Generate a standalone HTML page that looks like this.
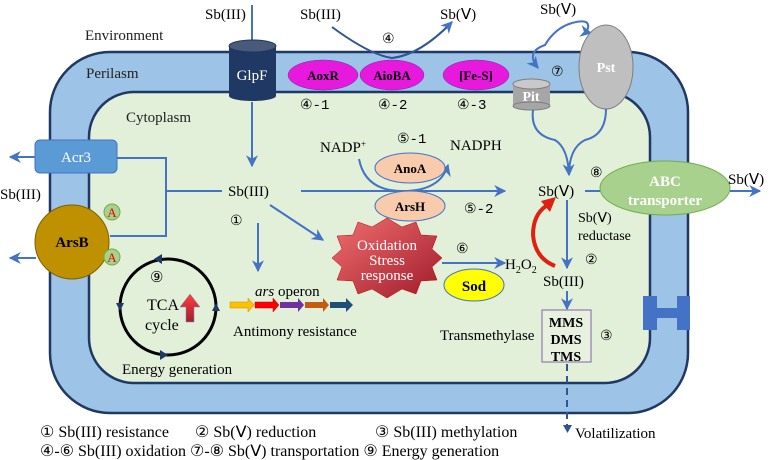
<!DOCTYPE html>
<html><head><meta charset="utf-8"><style>
body{margin:0;background:#fff}
svg{display:block;font-family:"Liberation Serif",serif}
</style></head><body>
<svg width="772" height="460" viewBox="0 0 772 460" xmlns="http://www.w3.org/2000/svg">
<defs>
<marker id="a" viewBox="0 0 10 10" refX="9" refY="5" markerWidth="6" markerHeight="6" orient="auto"><path d="M0,0L10,5L0,10L3,5z" fill="#4472c4"/></marker>
<linearGradient id="rg" x1="0" y1="0" x2="1" y2="1"><stop offset="0" stop-color="#f07070"/><stop offset="1" stop-color="#a01a2a"/></linearGradient>
<linearGradient id="ug" x1="0" y1="0" x2="0" y2="1"><stop offset="0" stop-color="#ff4040"/><stop offset="1" stop-color="#a0202a"/></linearGradient>
</defs>
<rect x="50" y="52" width="638" height="361" rx="60" fill="#9dc3e6" stroke="#1f3864" stroke-width="2.5"/>
<rect x="89" y="92" width="561" height="291" rx="45" fill="#e2efd9" stroke="#1f3864" stroke-width="2.5"/>
<g font-size="15" fill="#222">
<text x="85" y="40">Environment</text>
<text x="86" y="78">Perilasm</text>
<text x="126" y="122">Cytoplasm</text>
</g>
<text x="205" y="19" font-size="15">Sb(III)</text>
<line x1="252" y1="5" x2="252" y2="42" stroke="#4472c4" stroke-width="2"/>
<line x1="252" y1="102" x2="252" y2="166" stroke="#4472c4" stroke-width="2" marker-end="url(#a)"/>
<rect x="229" y="46" width="47" height="50" fill="#1f3864"/>
<ellipse cx="252.5" cy="96" rx="23.5" ry="5" fill="#1f3864"/>
<ellipse cx="252.5" cy="46" rx="23.5" ry="6" fill="#4a5a7a" stroke="#1f3864"/>
<text x="252" y="80" font-size="15" fill="#fff" text-anchor="middle">GlpF</text>
<text x="300" y="19" font-size="15">Sb(III)</text>
<path d="M332,27 Q370,55 392,58 Q420,55 452,22" fill="none" stroke="#2f5597" stroke-width="2" marker-end="url(#a)"/>
<text x="440" y="19" font-size="15">Sb(Ⅴ)</text>
<text x="382" y="43" font-size="14">④</text>
<g font-weight="bold" font-size="13" text-anchor="middle">
<ellipse cx="323" cy="75" rx="35" ry="15" fill="#e619dc" stroke="#7030a0" stroke-width="0.5"/><text x="323" y="80">AoxR</text>
<ellipse cx="392" cy="75" rx="32" ry="15" fill="#e619dc" stroke="#7030a0" stroke-width="0.5"/><text x="392" y="80">AioBA</text>
<ellipse cx="476" cy="75" rx="33" ry="15" fill="#e619dc" stroke="#7030a0" stroke-width="0.5"/><text x="476" y="80">[Fe-S]</text>
</g>
<g font-size="14" font-family="Liberation Mono,monospace">
<text x="300" y="109">④-1</text><text x="378" y="109">④-2</text><text x="457" y="109">④-3</text>
</g>
<text x="540" y="14" font-size="15">Sb(Ⅴ)</text>
<path d="M572,23 Q590,18 588,28 Q586,32 591,33" fill="none" stroke="#4472c4" stroke-width="2" marker-end="url(#a)"/>
<path d="M572,23 Q555,28 545,45 Q525,52 538,68" fill="none" stroke="#4472c4" stroke-width="2" marker-end="url(#a)"/>
<rect x="513" y="84" width="37" height="22" fill="#a6a6a6"/>
<ellipse cx="531.5" cy="106" rx="18.5" ry="4" fill="#a6a6a6" stroke="#7f7f7f"/>
<ellipse cx="531.5" cy="84" rx="18.5" ry="5" fill="#c9c9c9" stroke="#7f7f7f"/>
<text x="531" y="101" font-size="14" font-weight="bold" fill="#fff" text-anchor="middle">Pit</text>
<ellipse cx="606" cy="67" rx="27" ry="42" fill="#bfbfbf" stroke="#7f7f7f"/>
<text x="606" y="72" font-size="14" font-weight="bold" fill="#fff" text-anchor="middle">Pst</text>
<text x="551" y="76" font-size="14">⑦</text>
<path d="M533,110 Q530,135 555,140 Q568,148 569,175" fill="none" stroke="#4472c4" stroke-width="2" marker-end="url(#a)"/>
<path d="M606,109 Q606,135 585,140 Q569,148 569,175" fill="none" stroke="#4472c4" stroke-width="2"/>
<text x="538" y="196" font-size="15">Sb(Ⅴ)</text>
<line x1="585" y1="191" x2="600" y2="191" stroke="#4472c4" stroke-width="2"/>
<text x="590" y="177" font-size="14">⑧</text>
<ellipse cx="665" cy="188" rx="65" ry="27" fill="#a9d18e" stroke="#70ad47"/>
<text x="665" y="186" font-size="15" font-weight="bold" fill="#fff" text-anchor="middle">ABC</text>
<text x="665" y="205" font-size="15" font-weight="bold" fill="#fff" text-anchor="middle">transporter</text>
<line x1="730" y1="191" x2="760" y2="191" stroke="#4472c4" stroke-width="2" marker-end="url(#a)"/>
<text x="728" y="184" font-size="15">Sb(Ⅴ)</text>
<line x1="567" y1="200" x2="567" y2="268" stroke="#4472c4" stroke-width="2" marker-end="url(#a)"/>
<text x="578" y="222" font-size="14">Sb(Ⅴ)</text>
<text x="578" y="240" font-size="14">reductase</text>
<text x="585" y="264" font-size="14">②</text>
<text x="543" y="286" font-size="15">Sb(III)</text>
<path d="M555,266 Q535,258 533,235 Q533,215 546,206" fill="none" stroke="#e02010" stroke-width="4"/>
<path d="M541,201 L556,197 L550,212 z" fill="#e02010"/>
<line x1="567" y1="291" x2="567" y2="309" stroke="#4472c4" stroke-width="2" marker-end="url(#a)"/>
<rect x="542" y="310" width="49" height="52" fill="#e8f1e0" stroke="#8064a2"/>
<g font-size="14" font-weight="bold" text-anchor="middle"><text x="566" y="327">MMS</text><text x="566" y="344">DMS</text><text x="566" y="361">TMS</text></g>
<text x="440" y="340" font-size="15">Transmethylase</text>
<text x="600" y="340" font-size="14">③</text>
<line x1="567" y1="364" x2="567" y2="426" stroke="#2f5597" stroke-width="2" stroke-dasharray="7,5"/>
<path d="M563,425L572,425L567.5,433z" fill="#2f5597"/>
<text x="575" y="438" font-size="15">Volatilization</text>
<rect x="643" y="296" width="14" height="34" fill="#4472c4"/><rect x="677" y="296" width="13" height="34" fill="#4472c4"/><rect x="657" y="308" width="20" height="10" fill="#4472c4"/>
<rect x="35" y="140" width="82" height="33" rx="5" fill="#5b9bd5" stroke="#4472c4"/>
<text x="76" y="162" font-size="15" fill="#fff" text-anchor="middle">Acr3</text>
<line x1="35" y1="157" x2="10" y2="157" stroke="#4472c4" stroke-width="2" marker-end="url(#a)"/>
<polyline points="117,158 166,158 166,236 110,236" fill="none" stroke="#4472c4" stroke-width="2"/>
<line x1="166" y1="191" x2="222" y2="191" stroke="#4472c4" stroke-width="2"/>
<text x="0" y="199" font-size="15">Sb(III)</text>
<circle cx="72" cy="242" r="37" fill="#bf9000" stroke="#7f6000"/>
<text x="72" y="247" font-size="15" font-weight="bold" text-anchor="middle">ArsB</text>
<line x1="36" y1="258" x2="10" y2="258" stroke="#4472c4" stroke-width="2" marker-end="url(#a)"/>
<circle cx="112" cy="212" r="8" fill="#a9d18e" stroke="#70ad47"/><text x="112" y="217" font-size="13" fill="#e00" text-anchor="middle">A</text>
<circle cx="112" cy="257" r="8" fill="#a9d18e" stroke="#70ad47"/><text x="112" y="262" font-size="13" fill="#e00" text-anchor="middle">A</text>
<text x="228" y="196" font-size="15">Sb(III)</text>
<line x1="301" y1="191" x2="505" y2="191" stroke="#4472c4" stroke-width="2" marker-end="url(#a)"/>
<text x="230" y="225" font-size="14">①</text>
<line x1="258" y1="223" x2="258" y2="271" stroke="#4472c4" stroke-width="2" marker-end="url(#a)"/>
<line x1="270" y1="205" x2="323" y2="240" stroke="#4472c4" stroke-width="2" marker-end="url(#a)"/>
<text x="320" y="152" font-size="15">NADP<tspan font-size="9" dy="-5">+</tspan></text>
<text x="450" y="150" font-size="15">NADPH</text>
<text x="397" y="143" font-size="14" font-family="Liberation Mono,monospace">⑤-1</text>
<path d="M359,159 Q365,190 400,191 Q440,192 448,165" fill="none" stroke="#4472c4" stroke-width="2" marker-end="url(#a)"/>
<ellipse cx="410" cy="168" rx="35" ry="15" fill="#f8cbad" stroke="#4472c4"/>
<text x="410" y="173" font-size="13" font-weight="bold" text-anchor="middle">AnoA</text>
<ellipse cx="410" cy="206" rx="35" ry="15" fill="#f8cbad" stroke="#4472c4"/>
<text x="410" y="211" font-size="13" font-weight="bold" text-anchor="middle">ArsH</text>
<text x="464" y="213" font-size="14" font-family="Liberation Mono,monospace">⑤-2</text>
<polygon points="442,258 432,267 437,280 421,281 416,294 402,289 387,298 372,289 358,294 353,281 337,280 342,267 332,258 342,249 337,236 353,235 358,222 372,227 387,218 402,227 416,222 421,235 437,236 432,249" fill="url(#rg)" stroke="#c00000" stroke-width="0.5"/>
<g font-size="15" fill="#fff" text-anchor="middle"><text x="387" y="250">Oxidation</text><text x="387" y="265">Stress</text><text x="387" y="280">response</text></g>
<text x="456" y="253" font-size="14">⑥</text>
<line x1="442" y1="263" x2="505" y2="263" stroke="#4472c4" stroke-width="2" marker-end="url(#a)"/>
<text x="505" y="269" font-size="15">H<tspan font-size="10" dy="4">2</tspan><tspan dy="-4">O</tspan><tspan font-size="10" dy="4">2</tspan></text>
<ellipse cx="474" cy="285" rx="30" ry="16" fill="#ffff00" stroke="#4472c4"/>
<text x="474" y="291" font-size="15" font-weight="bold" text-anchor="middle">Sod</text>
<text x="255" y="296" font-size="15"><tspan font-style="italic">ars</tspan> operon</text>
<g stroke-width="0.5">
<path d="M230,302h18v-4l6,7-6,7v-4h-18z" fill="#ffc000" stroke="#bf9000"/>
<path d="M255,302h18v-4l6,7-6,7v-4h-18z" fill="#ff0000" stroke="#c00000"/>
<path d="M280,302h18v-4l6,7-6,7v-4h-18z" fill="#7030a0"/>
<path d="M305,302h18v-4l6,7-6,7v-4h-18z" fill="#c55a11"/>
<path d="M330,302h16v-4l7,7-7,7v-4h-16z" fill="#1f4e79"/>
</g>
<text x="233" y="336" font-size="15">Antimony resistance</text>
<circle cx="168" cy="307" r="48" fill="none" stroke="#000" stroke-width="3"/>
<path d="M162,254L154,259L162,264z" fill="#1f3864"/>
<path d="M116,303L124,303L120,311z" fill="#1f3864"/>
<path d="M212,311L220,311L216,303z" fill="#1f3864"/>
<path d="M160,350L168,355L160,360z" fill="#1f3864"/>
<text x="150" y="282" font-size="15">⑨</text>
<text x="147" y="310" font-size="16">TCA</text>
<text x="145" y="330" font-size="16">cycle</text>
<path d="M186,322V307h-6l10,-13 10,13h-6v15z" fill="url(#ug)" stroke="#8080c0" stroke-width="0.5"/>
<text x="122" y="374" font-size="15">Energy generation</text>
<g font-size="16">
<text x="40" y="437">① Sb(III) resistance</text>
<text x="195" y="437">② Sb(Ⅴ) reduction</text>
<text x="375" y="437">③  Sb(III) methylation</text>
<text x="40" y="456">④-⑥ Sb(III) oxidation ⑦-⑧ Sb(Ⅴ) transportation ⑨ Energy generation</text>
</g>
</svg>
</body></html>
